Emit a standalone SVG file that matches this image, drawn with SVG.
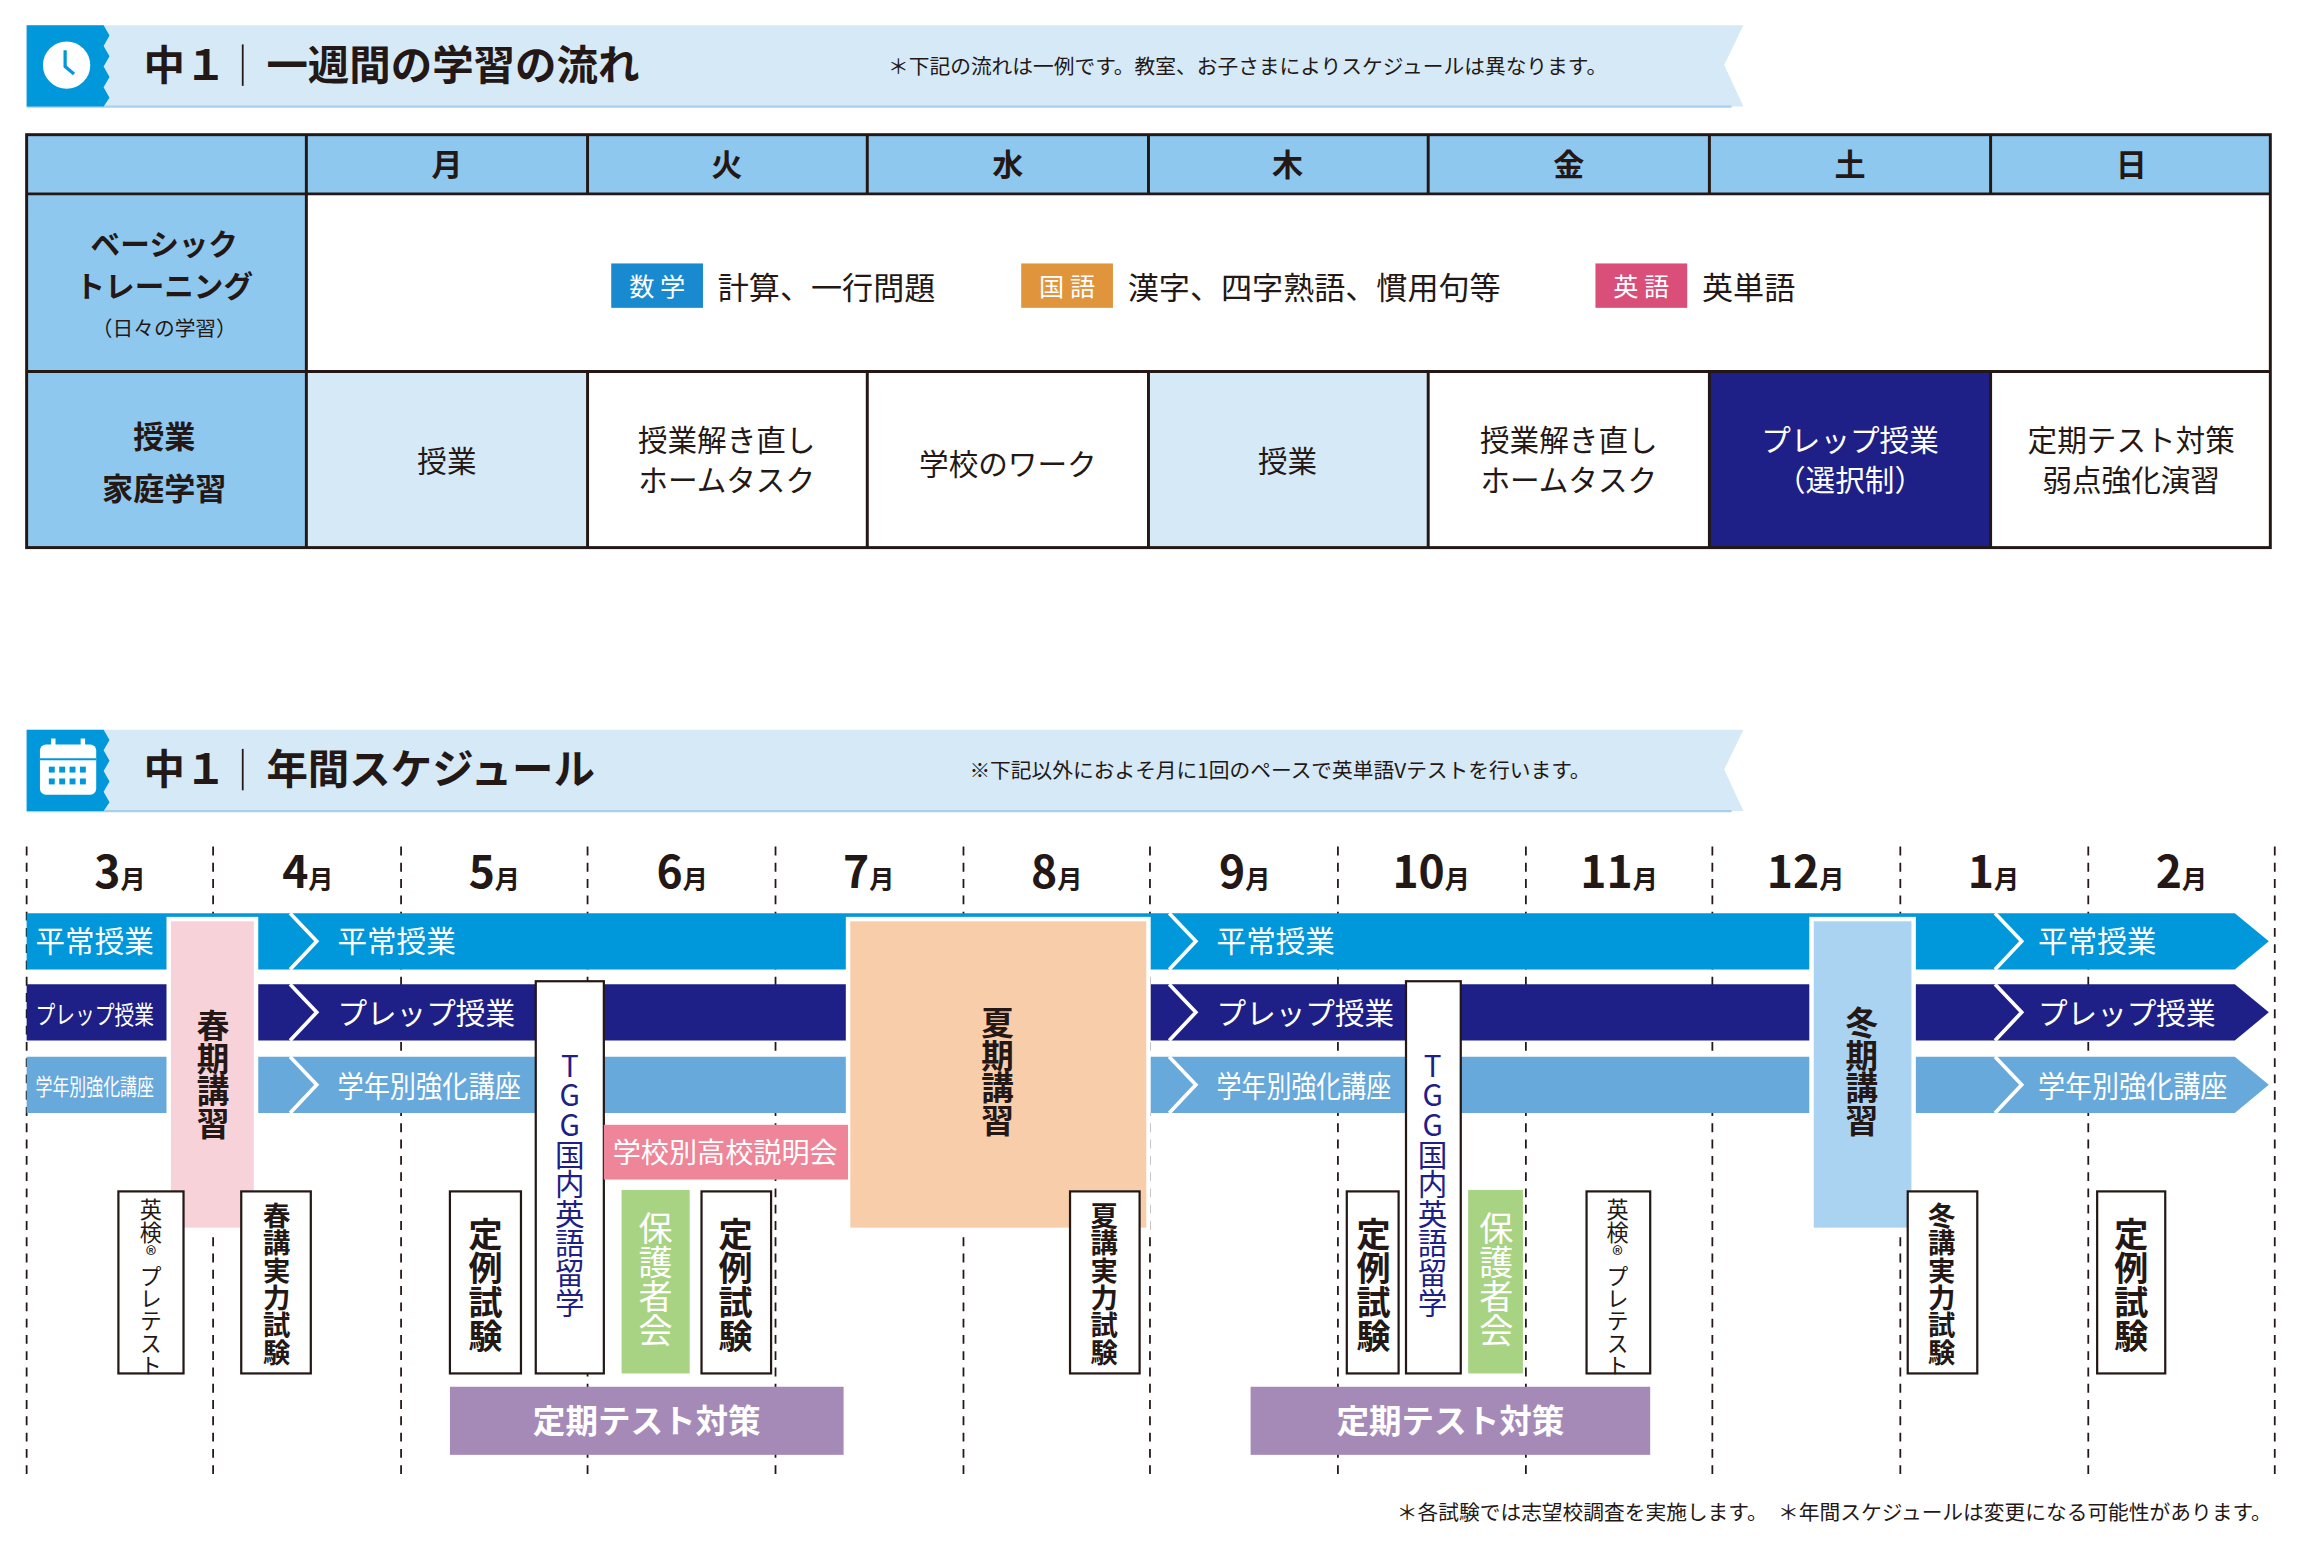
<svg xmlns="http://www.w3.org/2000/svg" width="2320" height="1549" viewBox="0 0 2320 1549">
<style>
text{font-family:"Noto Sans CJK JP","Noto Sans",sans-serif;fill:#231815}
.b{font-weight:700}
.w{fill:#fff}
.cell{stroke:#231815;stroke-width:2}
.dash{stroke:#231815;stroke-width:1.2;stroke-dasharray:6 5}
.box{fill:#fff;stroke:#231815;stroke-width:1.5}
.v{writing-mode:vertical-rl;text-orientation:upright}
.chev{fill:none;stroke:#fff;stroke-width:2.5}
</style>
<rect width="2320" height="1549" fill="#fff"/>
<g transform="scale(1.48)">
<g id="header1">
<polygon points="18,17 1178,17 1165,44 1178,72 18,72" fill="#d6e9f7"/>
<line x1="18" y1="72" x2="1170" y2="72" stroke="#a8d0ee" stroke-width="1.5"/>
<polygon points="18,17 70,17 74,24 70,31 74,38 70,45 74,52 70,59 74,66 70,72 18,72" fill="#0098db"/>
<circle cx="45" cy="44" r="16" fill="#fff"/>
<path d="M44,34 L44,45 L50,50" stroke="#0098db" stroke-width="2.2" fill="none"/>
<text x="97" y="54" class="b" font-size="28">中１</text>
<line x1="164" y1="30" x2="164" y2="58" stroke="#231815" stroke-width="1.2"/>
<text x="180" y="54" class="b" font-size="28">一週間の学習の流れ</text>
<text x="600" y="50" font-size="14">＊下記の流れは一例です。教室、お子さまによりスケジュールは異なります。</text>
</g>
<g id="table">
<rect x="18" y="91" width="1516" height="40" fill="#8fc8ee"/>
<rect x="18" y="131" width="189" height="239" fill="#8fc8ee"/>
<rect x="207" y="251" width="190" height="119" fill="#d6e9f7"/>
<rect x="776" y="251" width="189" height="119" fill="#d6e9f7"/>
<rect x="1155" y="251" width="190" height="119" fill="#1e2087"/>
<rect x="18" y="91" width="1516" height="279" fill="none" class="cell"/>
<line x1="18" y1="131" x2="1534" y2="131" class="cell"/>
<line x1="18" y1="251" x2="1534" y2="251" class="cell"/>
<line x1="207" y1="91" x2="207" y2="370" class="cell"/>
<g class="cell">
<line x1="397" y1="91" x2="397" y2="131"/><line x1="586" y1="91" x2="586" y2="131"/><line x1="776" y1="91" x2="776" y2="131"/><line x1="965" y1="91" x2="965" y2="131"/><line x1="1155" y1="91" x2="1155" y2="131"/><line x1="1345" y1="91" x2="1345" y2="131"/>
<line x1="397" y1="251" x2="397" y2="370"/><line x1="586" y1="251" x2="586" y2="370"/><line x1="776" y1="251" x2="776" y2="370"/><line x1="965" y1="251" x2="965" y2="370"/><line x1="1155" y1="251" x2="1155" y2="370"/><line x1="1345" y1="251" x2="1345" y2="370"/>
</g>
<g class="b" font-size="21" text-anchor="middle">
<text x="302" y="119">月</text><text x="491" y="119">火</text><text x="681" y="119">水</text><text x="870" y="119">木</text><text x="1060" y="119">金</text><text x="1250" y="119">土</text><text x="1440" y="119">日</text>
<text x="111" y="172" font-size="20">ベーシック</text>
<text x="111" y="201" font-size="20">トレーニング</text>
<text x="111" y="303">授業</text>
<text x="111" y="338">家庭学習</text>
</g>
<text x="111" y="227" font-size="14" text-anchor="middle">（日々の学習）</text>
<rect x="413" y="178" width="62" height="30" fill="#1a8ad0"/>
<text x="444" y="200" class="w" font-size="17" text-anchor="middle">数 学</text>
<text x="485" y="202" font-size="21">計算、一行問題</text>
<rect x="690" y="178" width="62" height="30" fill="#e0953c"/>
<text x="721" y="200" class="w" font-size="17" text-anchor="middle">国 語</text>
<text x="762" y="202" font-size="21">漢字、四字熟語、慣用句等</text>
<rect x="1078" y="178" width="62" height="30" fill="#d94f7a"/>
<text x="1109" y="200" class="w" font-size="17" text-anchor="middle">英 語</text>
<text x="1150" y="202" font-size="21">英単語</text>
<g font-size="20" text-anchor="middle">
<text x="302" y="319">授業</text>
<text x="491" y="305">授業解き直し</text><text x="491" y="332">ホームタスク</text>
<text x="681" y="321">学校のワーク</text>
<text x="870" y="319">授業</text>
<text x="1060" y="305">授業解き直し</text><text x="1060" y="332">ホームタスク</text>
<text x="1250" y="305" class="w">プレップ授業</text><text x="1250" y="332" class="w">（選択制）</text>
<text x="1440" y="305">定期テスト対策</text><text x="1440" y="332">弱点強化演習</text>
</g>
</g>
<g id="header2">
<polygon points="18,493 1178,493 1165,520 1178,548 18,548" fill="#d6e9f7"/>
<line x1="18" y1="548" x2="1170" y2="548" stroke="#a8d0ee" stroke-width="1.5"/>
<polygon points="18,493 70,493 74,500 70,507 74,514 70,521 74,528 70,535 74,542 70,548 18,548" fill="#0098db"/>
<rect x="27" y="503" width="38" height="34" rx="4" fill="#fff"/>
<line x1="36" y1="499" x2="36" y2="507" stroke="#fff" stroke-width="3"/><line x1="56" y1="499" x2="56" y2="507" stroke="#fff" stroke-width="3"/>
<line x1="27" y1="513" x2="65" y2="513" stroke="#0098db" stroke-width="1.5"/>
<g fill="#0098db"><rect x="33" y="518" width="4" height="4"/><rect x="40" y="518" width="4" height="4"/><rect x="47" y="518" width="4" height="4"/><rect x="54" y="518" width="4" height="4"/><rect x="33" y="526" width="4" height="4"/><rect x="40" y="526" width="4" height="4"/><rect x="47" y="526" width="4" height="4"/><rect x="54" y="526" width="4" height="4"/></g>
<text x="97" y="530" class="b" font-size="28">中１</text>
<line x1="164" y1="506" x2="164" y2="534" stroke="#231815" stroke-width="1.2"/>
<text x="180" y="530" class="b" font-size="28">年間スケジュール</text>
<text x="655" y="526" font-size="14">※下記以外におよそ月に1回のペースで英単語Vテストを行います。</text>
</g>
<g id="grid">
<g class="dash">
<line x1="18" y1="572" x2="18" y2="1000"/><line x1="144" y1="572" x2="144" y2="1000"/><line x1="271" y1="572" x2="271" y2="1000"/><line x1="397" y1="572" x2="397" y2="1000"/><line x1="524" y1="572" x2="524" y2="1000"/><line x1="651" y1="572" x2="651" y2="1000"/><line x1="777" y1="572" x2="777" y2="1000"/><line x1="904" y1="572" x2="904" y2="1000"/><line x1="1031" y1="572" x2="1031" y2="1000"/><line x1="1157" y1="572" x2="1157" y2="1000"/><line x1="1284" y1="572" x2="1284" y2="1000"/><line x1="1411" y1="572" x2="1411" y2="1000"/><line x1="1537" y1="572" x2="1537" y2="1000"/>
</g>
<g class="b" text-anchor="middle" font-size="17">
<text x="81" y="600"><tspan font-size="30">3</tspan>月</text>
<text x="208" y="600"><tspan font-size="30">4</tspan>月</text>
<text x="334" y="600"><tspan font-size="30">5</tspan>月</text>
<text x="461" y="600"><tspan font-size="30">6</tspan>月</text>
<text x="587" y="600"><tspan font-size="30">7</tspan>月</text>
<text x="714" y="600"><tspan font-size="30">8</tspan>月</text>
<text x="841" y="600"><tspan font-size="30">9</tspan>月</text>
<text x="967" y="600"><tspan font-size="30">10</tspan>月</text>
<text x="1094" y="600"><tspan font-size="30">11</tspan>月</text>
<text x="1220" y="600"><tspan font-size="30">12</tspan>月</text>
<text x="1347" y="600"><tspan font-size="30">1</tspan>月</text>
<text x="1474" y="600"><tspan font-size="30">2</tspan>月</text>
</g>
</g>
<g id="bars">
<polygon points="18,617 1510,617 1533,636 1510,655 18,655" fill="#0098db"/>
<polygon points="18,665 1510,665 1533,684 1510,703 18,703" fill="#1e2087"/>
<polygon points="18,714 1510,714 1533,733 1510,752 18,752" fill="#68a9dc"/>
<g class="chev">
<polyline points="196,617 214,636 196,655"/><polyline points="196,665 214,684 196,703"/><polyline points="196,714 214,733 196,752"/>
<polyline points="790,617 808,636 790,655"/><polyline points="790,665 808,684 790,703"/><polyline points="790,714 808,733 790,752"/>
<polyline points="1348,617 1366,636 1348,655"/><polyline points="1348,665 1366,684 1348,703"/><polyline points="1348,714 1366,733 1348,752"/>
</g>
<g font-size="20">
<text x="24" y="643" class="w">平常授業</text><text x="228" y="643" class="w">平常授業</text><text x="822" y="643" class="w">平常授業</text><text x="1377" y="643" class="w">平常授業</text>
<text x="24" y="692" class="w" font-size="17" textLength="80" lengthAdjust="spacingAndGlyphs">プレップ授業</text>
<text x="228" y="692" class="w">プレップ授業</text><text x="822" y="692" class="w">プレップ授業</text><text x="1377" y="692" class="w">プレップ授業</text>
<text x="24" y="740" class="w" font-size="15" textLength="80" lengthAdjust="spacingAndGlyphs">学年別強化講座</text>
<text x="228" y="741" class="w" textLength="124" lengthAdjust="spacingAndGlyphs">学年別強化講座</text><text x="822" y="741" class="w" textLength="118" lengthAdjust="spacingAndGlyphs">学年別強化講座</text><text x="1377" y="741" class="w" textLength="128" lengthAdjust="spacingAndGlyphs">学年別強化講座</text>
</g>
</g>
<g id="seasonal">
<rect x="114" y="621" width="59" height="210" fill="#f7d2d8" stroke="#fff" stroke-width="3"/>
<text x="144" y="682" class="b v" font-size="22">春期講習</text>
<rect x="573" y="621" width="203" height="210" fill="#f8cdaa" stroke="#fff" stroke-width="3"/>
<text x="674" y="680" class="b v" font-size="22">夏期講習</text>
<rect x="1224" y="621" width="69" height="210" fill="#aad3f2" stroke="#fff" stroke-width="3"/>
<text x="1258" y="680" class="b v" font-size="22">冬期講習</text>
</g>
<g id="events">
<rect x="362" y="663" width="46" height="265" class="box"/>
<text x="385" y="710" class="v" font-size="20" style="fill:#1e2087">TGG国内英語留学</text>
<rect x="950" y="663" width="37" height="265" class="box"/>
<text x="968" y="710" class="v" font-size="20" style="fill:#1e2087">TGG国内英語留学</text>
<rect x="408" y="760" width="165" height="37" fill="#ee8598"/>
<text x="490" y="786" class="w" font-size="19" text-anchor="middle">学校別高校説明会</text>
<rect x="420" y="804" width="46" height="124" fill="#a8d383"/>
<text x="443" y="818" class="w v" font-size="23">保護者会</text>
<rect x="992" y="804" width="37" height="124" fill="#a8d383"/>
<text x="1011" y="818" class="w v" font-size="23">保護者会</text>
<rect x="80" y="805" width="44" height="123" class="box"/>
<text x="102" y="810" class="v" font-size="15">英検®プレテスト</text>
<rect x="1072" y="805" width="43" height="123" class="box"/>
<text x="1093" y="810" class="v" font-size="15">英検®プレテスト</text>
<rect x="163" y="805" width="47" height="123" class="box"/>
<text x="187" y="812" class="b v" font-size="18.5">春講実力試験</text>
<rect x="723" y="805" width="47" height="123" class="box"/>
<text x="746" y="812" class="b v" font-size="18.5">夏講実力試験</text>
<rect x="1289" y="805" width="47" height="123" class="box"/>
<text x="1312" y="812" class="b v" font-size="18.5">冬講実力試験</text>
<rect x="304" y="805" width="48" height="123" class="box"/>
<text x="328" y="822" class="b v" font-size="23">定例試験</text>
<rect x="474" y="805" width="47" height="123" class="box"/>
<text x="497" y="822" class="b v" font-size="23">定例試験</text>
<rect x="910" y="805" width="35" height="123" class="box"/>
<text x="928" y="822" class="b v" font-size="23">定例試験</text>
<rect x="1417" y="805" width="46" height="123" class="box"/>
<text x="1440" y="822" class="b v" font-size="23">定例試験</text>
<rect x="304" y="937" width="266" height="46" fill="#a58ab8"/>
<text x="437" y="968" class="w b" font-size="22" text-anchor="middle">定期テスト対策</text>
<rect x="845" y="937" width="270" height="46" fill="#a58ab8"/>
<text x="980" y="968" class="w b" font-size="22" text-anchor="middle">定期テスト対策</text>
</g>
<text x="1535" y="1027" font-size="14" text-anchor="end">＊各試験では志望校調査を実施します。　＊年間スケジュールは変更になる可能性があります。</text>
</g>
</svg>
